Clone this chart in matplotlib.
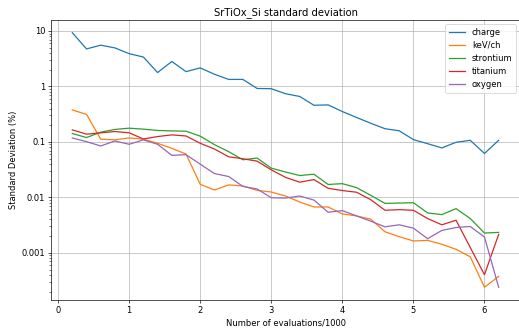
import numpy as np
import matplotlib
matplotlib.use('Agg')
import matplotlib.pyplot as plt
from matplotlib import ticker

# =================================================================
# 1. Data
# =================================================================
evals = [0.2, 0.4, 0.6, 0.8, 1.0, 1.2, 1.4, 1.6, 1.8, 2.0, 2.2, 2.4, 2.6, 2.8, 3.0, 3.2,
         3.4, 3.6, 3.8, 4.0, 4.2, 4.4, 4.6, 4.8, 5.0, 5.2, 5.4, 5.6, 5.8, 6.0, 6.2]

charge = [9.3, 4.75, 5.55, 4.95, 3.9, 3.39, 1.78, 2.82, 1.85, 2.16, 1.66, 1.34, 1.34, 0.92, 0.91, 0.74,
          0.66, 0.458, 0.465, 0.353, 0.276, 0.217, 0.173, 0.159, 0.110, 0.093, 0.078, 0.0986, 0.107, 0.062, 0.107]

kev_ch = [0.377, 0.314, 0.112, 0.109, 0.118, 0.112, 0.0946, 0.0767, 0.0605, 0.0172, 0.0136, 0.0168, 0.0161, 0.0134, 0.0125, 0.0106,
          0.00826, 0.00672, 0.00672, 0.00503, 0.00464, 0.00405, 0.0024, 0.00196, 0.00164, 0.00168, 0.00143, 0.00116, 0.00085, 0.00024, 0.000378]

strontium = [0.142, 0.120, 0.150, 0.168, 0.177, 0.170, 0.161, 0.158, 0.156, 0.127, 0.0895, 0.0668, 0.0477, 0.0512, 0.0337, 0.0287,
             0.0248, 0.0262, 0.0171, 0.0177, 0.0150, 0.0109, 0.00781, 0.00792, 0.00803, 0.00525, 0.0049, 0.00628, 0.00416, 0.00228, 0.00234]

titanium = [0.165, 0.138, 0.146, 0.154, 0.146, 0.113, 0.125, 0.134, 0.128, 0.0945, 0.0746, 0.054, 0.0497, 0.0451, 0.0314, 0.0230,
            0.0188, 0.021, 0.0146, 0.0133, 0.0124, 0.00909, 0.00586, 0.00602, 0.00586, 0.00416, 0.00321, 0.00388, 0.00125, 0.000405, 0.00216]

oxygen = [0.118, 0.101, 0.0846, 0.104, 0.0907, 0.109, 0.0907, 0.0573, 0.0589, 0.0398, 0.0269, 0.0238, 0.0158, 0.0142, 0.00987, 0.00973,
          0.0106, 0.00896, 0.0054, 0.00578, 0.00464, 0.00373, 0.00295, 0.00321, 0.00279, 0.0018, 0.00254, 0.00287, 0.00299, 0.00193, 0.00024]

series = {'charge': charge, 'keV/ch': kev_ch, 'strontium': strontium,
          'titanium': titanium, 'oxygen': oxygen}

# =================================================================
# 2. Plot
# =================================================================
fig = plt.figure(figsize=(519 / 60, 334 / 60), dpi=60)
ax = fig.add_axes([51 / 519, 1 - 300 / 334, 469 / 519, 280 / 334])

for name, vals in series.items():
    ax.plot(evals, vals, label=name)

ax.set_yscale('log')
ax.yaxis.set_major_formatter(ticker.FuncFormatter(lambda v, p: f"{v:g}"))
ax.yaxis.set_minor_formatter(ticker.NullFormatter())
ax.grid(True)
ax.legend(loc='upper right')
ax.set_xlabel("Number of evaluations/1000")
ax.set_ylabel("Standard Deviation (%)")
ax.set_title("SrTiOx_Si standard deviation")

fig.savefig("out.png", dpi=60)
